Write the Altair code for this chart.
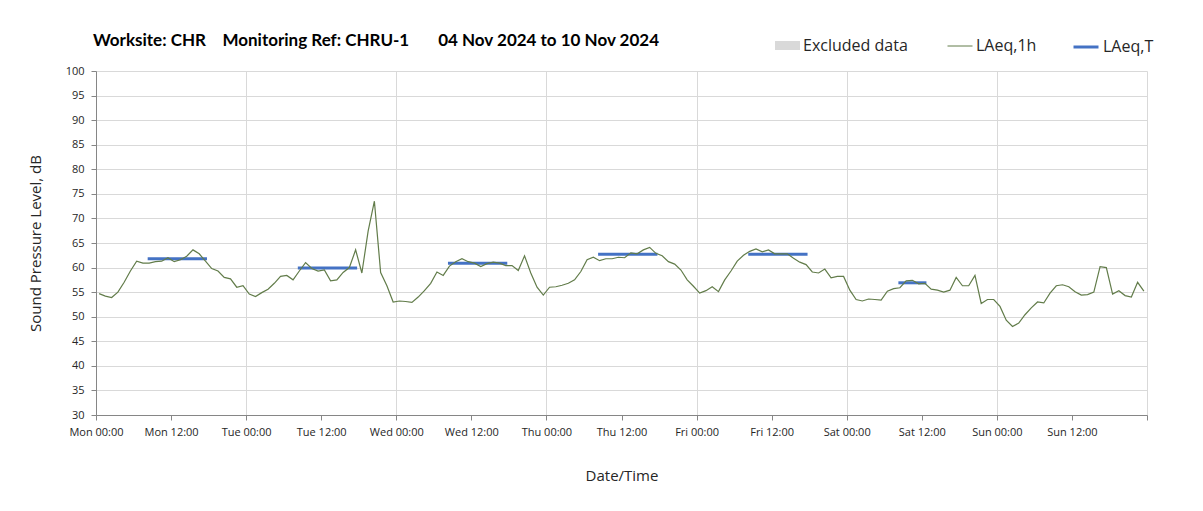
import altair as alt
import pandas as pd

# ---------------- data ----------------
day_names = ["Mon", "Tue", "Wed", "Thu", "Fri", "Sat", "Sun"]

mon = [54.7, 54.2, 53.9, 55.0, 57.0, 59.3, 61.3, 60.9, 60.9, 61.2, 61.3, 62.0,
       61.2, 61.6, 62.3, 63.6, 62.8, 61.3, 59.8, 59.3, 58.0, 57.7, 56.0, 56.3]
tue = [54.6, 54.1, 54.9, 55.6, 56.8, 58.2, 58.4, 57.5, 59.3, 61.0, 59.8, 59.3,
       59.5, 57.3, 57.5, 59.0, 60.0, 63.6, 58.9, 67.4, 73.5, 59.0, 56.3, 53.0]
wed = [53.2, 53.1, 52.9, 54.0, 55.3, 56.8, 59.1, 58.4, 60.3, 61.2, 61.8, 61.2,
       60.9, 60.2, 60.8, 61.1, 60.9, 60.4, 60.4, 59.4, 62.4, 58.9, 56.0, 54.4]
thu = [56.0, 56.1, 56.4, 56.8, 57.5, 59.2, 61.6, 62.1, 61.4, 61.8, 61.8, 62.1,
       62.0, 63.0, 62.8, 63.6, 64.1, 62.9, 62.4, 61.2, 60.7, 59.5, 57.5, 56.2]
fri = [54.8, 55.3, 56.1, 55.1, 57.5, 59.3, 61.3, 62.5, 63.3, 63.8, 63.2, 63.6,
       62.8, 62.8, 62.8, 61.9, 61.1, 60.6, 59.1, 58.9, 59.7, 57.9, 58.2, 58.2]
sat = [55.4, 53.5, 53.2, 53.6, 53.5, 53.4, 55.2, 55.7, 55.9, 57.3, 57.4, 56.7,
       56.8, 55.6, 55.4, 55.0, 55.4, 58.0, 56.3, 56.3, 58.4, 52.7, 53.5, 53.5]
sun = [52.1, 49.3, 48.0, 48.7, 50.4, 51.8, 53.0, 52.8, 54.8, 56.3, 56.5, 56.1,
       55.1, 54.4, 54.5, 55.0, 60.2, 60.0, 54.6, 55.3, 54.3, 54.0, 57.0, 55.2]

laeq_1h = mon + tue + wed + thu + fri + sat + sun
hours = [k + 0.5 for k in range(len(laeq_1h))]

# LAeq,T periods (hours from Mon 00:00)
t_start = [8.5, 32.5, 56.5, 80.5, 104.5, 128.5]
t_end = [17.5, 41.5, 65.5, 89.5, 113.5, 132.5]
t_level = [61.8, 59.9, 60.9, 62.7, 62.7, 56.9]

# Excluded data periods (none in this week)
excl_start = []
excl_end = []

series_names = ["Excluded data", "LAeq,1h", "LAeq,T"]
tick_hours = list(range(0, 169, 12))
y_ticks = list(range(30, 101, 5))

title_text = ("Worksite: CHR\u00a0\u00a0\u00a0\u00a0Monitoring Ref: CHRU-1"
              "\u00a0\u00a0\u00a0\u00a0\u00a0\u00a0\u00a004 Nov 2024 to 10 Nov 2024")

# ---------------- styling ----------------
LINE_GREEN = "#627c4a"
BLUE = "#4472c4"
GREY_FILL = "#d9d9d9"
GRID = "#d9d9d9"
AXIS = "#868686"
TXT = "#262626"
FONT = "Open Sans"

df_1h = pd.DataFrame({"hour": hours, "level": laeq_1h, "series": series_names[1]})
df_t = pd.DataFrame({"start": t_start, "end": t_end, "level": t_level,
                     "series": series_names[2]})
excl_values = [{"start": s, "end": e, "series": series_names[0]}
               for s, e in zip(excl_start, excl_end)]

day_list = "[" + ",".join("'%s'" % d for d in day_names) + "]"
label_expr = ("datum.value >= 168 ? '' : " + day_list +
              "[floor(datum.value / 24)] + (datum.value % 24 == 0 ? ' 00:00' : ' 12:00')")

x_scale = alt.Scale(domain=[0, 168], nice=False, zero=False)
y_scale = alt.Scale(domain=[30, 100], nice=False, zero=False)

x_axis = alt.Axis(
    values=tick_hours, labelExpr=label_expr, grid=True,
    gridColor={"condition": {"test": "datum.value % 24 == 0", "value": GRID},
               "value": "transparent"},
    gridWidth=1, domainColor=AXIS, tickColor=AXIS, tickSize=5,
    labelFont=FONT, labelFontSize=11, labelColor=TXT, labelPadding=6,
    labelFlush=False, labelOverlap=False,
    title="Date/Time", titleFont=FONT, titleFontSize=15, titleFontWeight="normal",
    titleColor=TXT, titlePadding=31,
)
y_axis = alt.Axis(
    values=y_ticks, grid=True, gridColor=GRID, gridWidth=1,
    domainColor=AXIS, tickColor=AXIS, tickSize=5,
    labelFont=FONT, labelFontSize=11, labelColor=TXT, labelPadding=7,
    title="Sound Pressure Level, dB", titleFont=FONT, titleFontSize=15,
    titleFontWeight="normal", titleColor=TXT, titlePadding=22,
)


def legend(x, symbol_type, stroke_width, fill=None):
    kw = dict(orient="none", legendX=x, legendY=-38, title=None,
              symbolType=symbol_type, symbolSize=625, symbolStrokeWidth=stroke_width,
              labelFont=FONT, labelFontSize=16, labelColor=TXT, labelOffset=3,
              padding=0)
    if fill is not None:
        kw["symbolFillColor"] = fill
    return alt.Legend(**kw)


excluded = alt.Chart(alt.Data(values=excl_values)).mark_rect(color=GREY_FILL).encode(
    x=alt.X("start:Q", scale=x_scale, axis=x_axis),
    x2="end:Q",
    color=alt.Color("series:N",
                    scale=alt.Scale(domain=[series_names[0]], range=[GREY_FILL]),
                    legend=legend(679, "M-1,-0.36H1V0.36H-1Z", 0, GREY_FILL)),
)

laeq_t = alt.Chart(df_t).mark_rule(strokeWidth=3, strokeCap="square").encode(
    x=alt.X("start:Q", scale=x_scale, axis=x_axis),
    x2="end:Q",
    y=alt.Y("level:Q", scale=y_scale, axis=y_axis),
    color=alt.Color("series:N",
                    scale=alt.Scale(domain=[series_names[2]], range=[BLUE]),
                    legend=legend(976, "stroke", 3)),
)

laeq_1h_line = alt.Chart(df_1h).mark_line(strokeWidth=1.2).encode(
    x=alt.X("hour:Q", scale=x_scale, axis=x_axis),
    y=alt.Y("level:Q", scale=y_scale, axis=y_axis),
    color=alt.Color("series:N",
                    scale=alt.Scale(domain=[series_names[1]], range=[LINE_GREEN]),
                    legend=legend(851, "stroke", 1)),
)

chart = alt.layer(excluded, laeq_t, laeq_1h_line).resolve_scale(
    color="independent"
).properties(
    width=1051, height=344,
    autosize=alt.AutoSizeParams(type="none"),
    padding={"left": 88, "top": 63, "right": 40, "bottom": 80},
    title=alt.Title(title_text, anchor="start", frame="group", dx=-3, offset=0,
                    dy=30, baseline="alphabetic", font="Lato", fontSize=17,
                    fontWeight="bold", color="black"),
    background="white",
).configure_view(stroke=None)

chart.save("out.html", embed_options={"renderer": "svg", "actions": False})
